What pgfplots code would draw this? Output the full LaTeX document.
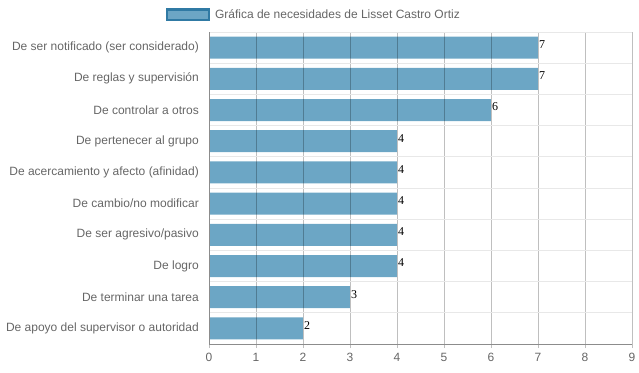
\documentclass[border=0pt]{standalone}
\usepackage{pgfplots}
\pgfplotsset{compat=1.18}
\usepackage{fontspec}
\setmainfont{Liberation Sans}
\newfontfamily\seriffont{Liberation Serif}
\definecolor{barcol}{RGB}{108,166,197}
\definecolor{legcol}{RGB}{48,122,164}
\definecolor{txtcol}{RGB}{102,102,102}
\definecolor{hgrid}{RGB}{232,232,232}
\begin{document}
\begin{tikzpicture}
\path[use as bounding box] (0,0) rectangle (639pt,372pt);
\begin{axis}[
  at={(209pt,28pt)}, anchor=south west,
  scale only axis, width=423pt, height=312pt,
  xbar, bar width=22pt,
  xmin=0, xmax=9, xtick={0,...,9},
  ymin=-0.5, ymax=9.5, y dir=reverse,
  ytick={0,...,9},
  yticklabels={De ser notificado (ser considerado),De reglas y supervisión,De controlar a otros,De pertenecer al grupo,De acercamiento y afecto (afinidad),De cambio/no modificar,De ser agresivo/pasivo,De logro,De terminar una tarea,De apoyo del supervisor o autoridad},
  minor ytick={-0.5,0.5,1.5,2.5,3.5,4.5,5.5,6.5,7.5,8.5,9.5},
  xmajorgrids, yminorgrids,
  major x grid style={draw=black, draw opacity=0.25, line width=0.8pt},
  minor y grid style={draw=hgrid, line width=1pt},
  axis on top,
  axis x line*=bottom, axis y line*=left,
  axis line style={-, draw=black!45, line width=0.8pt},
  ytick style={draw=none},
  minor y tick style={draw=none},
  xtick style={draw=black!25, line width=0.8pt},
  tick align=outside, major tick length=4pt, minor tick length=0pt,
  tick label style={font=\fontsize{12}{14}\selectfont, text=txtcol},
  /pgf/number format/assume math mode=true,
  yticklabel style={inner sep=0pt, xshift=-6pt},
  xticklabel style={yshift=-2pt},
  nodes near coords,
  nodes near coords style={font=\seriffont\fontsize{12}{12}\selectfont, text=black, anchor=west, inner sep=1pt, yshift=3pt},
  legend style={at={(0.248,1.055)}, anchor=center, draw=none, fill=none, font=\fontsize{12}{14}\selectfont, text=txtcol},
  legend image code/.code={\draw[fill=barcol,draw=legcol,line width=2.4pt] (1.2pt,-5.3pt) rectangle (42.8pt,5.3pt); \path (47pt,0pt);},
]
\addplot[fill=barcol, draw=none] coordinates {
(7,0) (7,1) (6,2) (4,3) (4,4) (4,5) (4,6) (4,7) (3,8) (2,9)
};
\addlegendentry{Gráfica de necesidades de Lisset Castro Ortiz}
\end{axis}
\end{tikzpicture}
\end{document}
